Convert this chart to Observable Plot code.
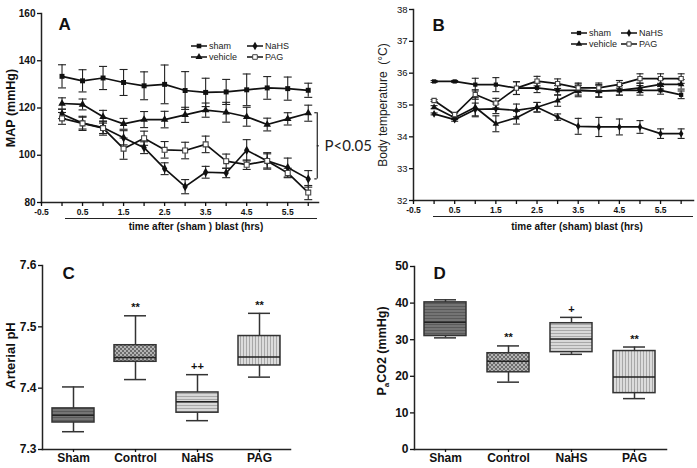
<!DOCTYPE html>
<html><head><meta charset="utf-8">
<script src="https://cdn.jsdelivr.net/npm/d3@7"></script>
<script src="https://cdn.jsdelivr.net/npm/@observablehq/plot@0.6"></script>
<style>
body{margin:0;background:#fff;font-family:"Liberation Sans",Arial,sans-serif;color:#111}
#wrap{position:relative;width:697px;height:468px;overflow:hidden;background:#fff}
.abs{position:absolute}
.uline{position:absolute;height:0;border-top:1.5px solid #222}
.xtitle{position:absolute;font-weight:bold;font-size:10px;text-align:center;white-space:pre;width:240px}
.leg{position:absolute;font-size:9px;color:#222;display:flex;align-items:center;white-space:nowrap}
.leg svg{margin-right:2px}
.ylab{position:absolute;font-weight:bold;font-size:12.5px;white-space:nowrap;transform:translate(-50%,-50%) rotate(-90deg)}
</style></head>
<body>
<svg width="0" height="0" style="position:absolute">
<defs>
<pattern id="pSham" width="4" height="3" patternUnits="userSpaceOnUse">
<rect width="4" height="3" fill="#747474"/><line x1="0" y1="0.5" x2="4" y2="0.5" stroke="#5a5a5a" stroke-width="1"/></pattern>
<pattern id="pCtrl" width="4" height="4" patternUnits="userSpaceOnUse">
<rect width="4" height="4" fill="#b4b4b4"/><rect width="2" height="2" fill="#6c6c6c"/><rect x="2" y="2" width="2" height="2" fill="#6c6c6c"/></pattern>
<pattern id="pNaHS" width="4" height="3" patternUnits="userSpaceOnUse">
<rect width="4" height="3" fill="#d8d8d8"/><line x1="0" y1="0.5" x2="4" y2="0.5" stroke="#a8a8a8" stroke-width="1"/></pattern>
<pattern id="pPAG" width="3" height="4" patternUnits="userSpaceOnUse">
<rect width="3" height="4" fill="#dcdcdc"/><line x1="0.5" y1="0" x2="0.5" y2="4" stroke="#a8a8a8" stroke-width="1"/></pattern>
</defs></svg>
<div id="wrap"></div>
<script>
// ---------- DATA ----------
const times = [0, 0.5, 1, 1.5, 2, 2.5, 3, 3.5, 4, 4.5, 5, 5.5, 6];
const seriesNames = ["sham", "vehicle", "NaHS", "PAG"];

// Panel A: MAP (mmHg), mean and error
const mapSham       = [133.4, 131.5, 132.7, 130.8, 129.4, 130.0, 127.4, 126.6, 126.8, 127.7, 128.5, 128.2, 127.5];
const mapShamErr    = [4.9, 4.7, 4.9, 5.5, 5.9, 8.2, 8.0, 6.0, 5.3, 6.7, 4.8, 4.9, 3.0];
const mapVehicle    = [121.9, 121.5, 116.3, 113.3, 115.1, 115.1, 117.1, 119.1, 118.2, 116.3, 113.0, 115.4, 117.8];
const mapVehicleErr = [2.4, 2.3, 2.7, 2.3, 3.4, 3.5, 3.2, 3.0, 4.2, 4.0, 2.7, 2.6, 3.4];
const mapNaHS       = [117.5, 113.6, 111.7, 107.4, 103.2, 94.3, 86.7, 92.8, 92.5, 102.1, 97.6, 94.8, 90.0];
const mapNaHSErr    = [2.0, 2.5, 2.5, 3.0, 2.5, 2.5, 3.0, 2.5, 2.0, 4.5, 3.5, 4.0, 3.5];
const mapPAG        = [115.6, 113.5, 111.5, 102.8, 107.2, 102.3, 102.0, 104.6, 97.5, 96.0, 97.6, 92.5, 84.2];
const mapPAGErr     = [2.5, 3.0, 3.0, 4.5, 3.0, 3.5, 3.5, 3.5, 3.0, 2.0, 3.0, 2.0, 3.0];

// Panel B: body temperature (°C)
const tempSham       = [35.74, 35.74, 35.64, 35.64, 35.53, 35.54, 35.46, 35.46, 35.44, 35.46, 35.46, 35.46, 35.32];
const tempShamErr    = [0.03, 0.03, 0.2, 0.22, 0.2, 0.15, 0.15, 0.15, 0.18, 0.15, 0.15, 0.12, 0.12];
const tempVehicle    = [34.93, 34.6, 34.93, 34.41, 34.6, 34.93, 35.14, 35.46, 35.44, 35.46, 35.54, 35.65, 35.65];
const tempVehicleErr = [0.05, 0.05, 0.3, 0.25, 0.2, 0.15, 0.18, 0.2, 0.2, 0.15, 0.15, 0.15, 0.15];
const tempNaHS       = [34.72, 34.54, 34.86, 34.88, 34.83, 34.93, 34.62, 34.33, 34.31, 34.31, 34.31, 34.1, 34.1];
const tempNaHSErr    = [0.03, 0.05, 0.2, 0.15, 0.2, 0.15, 0.1, 0.25, 0.3, 0.25, 0.2, 0.15, 0.15];
const tempPAG        = [35.14, 34.7, 35.33, 35.06, 35.53, 35.75, 35.67, 35.54, 35.54, 35.65, 35.83, 35.83, 35.83];
const tempPAGErr     = [0.03, 0.05, 0.15, 0.15, 0.2, 0.15, 0.15, 0.15, 0.15, 0.12, 0.15, 0.15, 0.15];

// Panels C & D: box plots
const groups = ["Sham", "Control", "NaHS", "PAG"];
const phMin = [7.329, 7.414, 7.347, 7.418];
const phQ1  = [7.344, 7.443, 7.360, 7.437];
const phMed = [7.356, 7.450, 7.378, 7.451];
const phQ3  = [7.367, 7.470, 7.393, 7.485];
const phMax = [7.402, 7.518, 7.422, 7.522];
const phMarks = ["", "**", "++", "**"];

const co2Min = [30.5, 18.4, 26.0, 13.9];
const co2Q1  = [31.0, 21.1, 26.6, 15.4];
const co2Med = [34.8, 24.1, 30.2, 19.8];
const co2Q3  = [40.2, 26.3, 34.5, 26.9];
const co2Max = [40.9, 28.3, 36.1, 28.0];
const co2Marks = ["", "**", "+", "**"];

// Tick labels / text
const mapTicks = [80, 100, 120, 140, 160];
const tempTicks = [32, 33, 34, 35, 36, 37, 38];
const timeTicks = [-0.5, 0, 0.5, 1, 1.5, 2, 2.5, 3, 3.5, 4, 4.5, 5, 5.5, 6];
const phTicks = [7.3, 7.4, 7.5, 7.6];
const co2Ticks = [0, 10, 20, 30, 40, 50];
const pText = "P<0.05";
const bracket = {x: 6.22, top: 118, bottom: 90, mid: 104};

// ---------- HELPERS ----------
const W = document.getElementById("wrap");
const FONT = "'Liberation Sans', Arial, sans-serif";
const style = {fontFamily: FONT, fontSize: "10px", color: "#111", background: "none", overflow: "visible"};
const hline = {draw(ctx, size) { const r = Math.sqrt(size / Math.PI); ctx.moveTo(-r, 0); ctx.lineTo(r, 0); }};
const spec = {
  sham: {symbol: "square", fill: "#111", stroke: "none"},
  vehicle: {symbol: "triangle", fill: "#111", stroke: "none"},
  NaHS: {symbol: "diamond", fill: "#111", stroke: "none"},
  PAG: {symbol: "square", fill: "#fff", stroke: "#444"}
};
const fmtHalf = d => (Math.round(d * 2) % 2 !== 0 ? d.toFixed(1) : "");

function longData(values, errs) {
  return seriesNames.flatMap((s, i) => times.map((t, j) => ({series: s, t, v: values[i][j], e: errs[i][j]})));
}
function lineMarks(data, r, capR) {
  return [
    Plot.ruleX(data, {x: "t", y1: d => d.v - d.e, y2: d => d.v + d.e, stroke: "#222", strokeWidth: 1.1}),
    Plot.dot(data, {x: "t", y: d => d.v + d.e, symbol: hline, r: capR, stroke: "#222", strokeWidth: 1.1}),
    Plot.dot(data, {x: "t", y: d => d.v - d.e, symbol: hline, r: capR, stroke: "#222", strokeWidth: 1.1}),
    Plot.line(data, {x: "t", y: "v", z: "series", stroke: "#111", strokeWidth: 1.7}),
    ...seriesNames.map(s => Plot.dot(data.filter(d => d.series === s), {
      x: "t", y: "v", symbol: spec[s].symbol, r, fill: spec[s].fill, stroke: spec[s].stroke, strokeWidth: 1.1
    }))
  ];
}
function place(el, left, top) { el.style.position = "absolute"; el.style.left = left + "px"; el.style.top = top + "px"; W.appendChild(el); }
function div(cls, left, top, html, extra) {
  const e = document.createElement("div"); e.className = cls; e.style.left = left + "px"; e.style.top = top + "px";
  e.innerHTML = html; if (extra) Object.assign(e.style, extra); W.appendChild(e); return e;
}
function legendItem(left, cy, name, r) {
  const s = spec[name];
  const size = r * r * Math.PI;
  const sym = {square: d3.symbolSquare, triangle: d3.symbolTriangle, diamond: d3.symbolDiamond}[s.symbol];
  const path = d3.symbol(sym, size)();
  const html = `<svg width="16" height="10"><line x1="0" y1="5" x2="16" y2="5" stroke="#111" stroke-width="1.5"/>` +
    `<path transform="translate(8,5)" d="${path}" fill="${s.fill}" stroke="${s.stroke}" stroke-width="1"/></svg><span>${name}</span>`;
  div("leg", left, cy - 6, html, {height: "12px"});
}

// ---------- PANEL A ----------
const dataA = longData([mapSham, mapVehicle, mapNaHS, mapPAG], [mapShamErr, mapVehicleErr, mapNaHSErr, mapPAGErr]);
const plotA = Plot.plot({
  width: 380, height: 222, marginLeft: 41, marginRight: 62, marginTop: 13, marginBottom: 20,
  style, x: {domain: [-0.5, 6.25]}, y: {domain: [80, 160]},
  marks: [
    Plot.frame({anchor: "left", strokeWidth: 1.5, stroke: "#222"}),
    Plot.frame({anchor: "bottom", strokeWidth: 1.5, stroke: "#222"}),
    Plot.axisY({ticks: mapTicks, tickSize: 4, tickPadding: 2, fontWeight: "bold", fontSize: 10, label: null, strokeWidth: 1.3}),
    Plot.axisX({ticks: timeTicks, tickSize: 4, tickPadding: 2, tickFormat: fmtHalf, fontWeight: "bold", fontSize: 8.5, label: null, strokeWidth: 1.3}),
    Plot.text(["MAP (mmHg)"], {text: d => d, frameAnchor: "left", dx: -31, rotate: -90, textAnchor: "middle", fontWeight: "bold", fontSize: 12.5}),
    Plot.text(["A"], {text: d => d, frameAnchor: "top-left", dx: 17, dy: 4, lineAnchor: "top", fontWeight: "bold", fontSize: 17}),
    ...lineMarks(dataA, 2.8, 4),
    Plot.ruleX([bracket.x], {y1: bracket.bottom, y2: bracket.top, stroke: "#222", strokeWidth: 1.2}),
    Plot.ruleY([bracket.top, bracket.bottom], {x1: bracket.x - 0.06, x2: bracket.x, stroke: "#222", strokeWidth: 1.2}),
    Plot.ruleY([bracket.mid], {x1: bracket.x, x2: bracket.x + 0.05, stroke: "#222", strokeWidth: 1.2}),
    Plot.text([pText], {text: d => d, x: 6.25, y: bracket.mid, dx: 6, textAnchor: "start", fontSize: 15, fontFamily: "Lato, 'Liberation Sans', sans-serif", fill: "#222"})
  ]
});
place(plotA, 0, 0);

// ---------- PANEL B ----------
const dataB = longData([tempSham, tempVehicle, tempNaHS, tempPAG], [tempShamErr, tempVehicleErr, tempNaHSErr, tempPAGErr]);
const plotB = Plot.plot({
  width: 342, height: 222, marginLeft: 58, marginRight: 4, marginTop: 9, marginBottom: 22,
  style, x: {domain: [-0.5, 6.3]}, y: {domain: [32, 38]},
  marks: [
    Plot.frame({anchor: "left", strokeWidth: 1.5, stroke: "#222"}),
    Plot.frame({anchor: "bottom", strokeWidth: 1.5, stroke: "#222"}),
    Plot.axisY({ticks: tempTicks, tickFormat: d => String(d), tickSize: 4, tickPadding: 2, fontSize: 9.5, label: null, strokeWidth: 1.3}),
    Plot.axisX({ticks: timeTicks, tickSize: 4, tickPadding: 2, tickFormat: fmtHalf, fontWeight: "bold", fontSize: 8.5, label: null, strokeWidth: 1.3}),
    Plot.text(["Body temperature  (°C)"], {text: d => d, frameAnchor: "left", dx: -30, rotate: -90, textAnchor: "middle", fontSize: 12, fill: "#222"}),
    Plot.text(["B"], {text: d => d, frameAnchor: "top-left", dx: 19, dy: 9, lineAnchor: "top", fontWeight: "bold", fontSize: 17}),
    ...lineMarks(dataB, 2.4, 3.5)
  ]
});
place(plotB, 355, 0);

// x titles + underlines for A/B
div("uline", 65, 218, "", {width: "252px"});
div("xtitle", 196 - 120, 221, "time after (sham ) blast (hrs)");
div("uline", 433, 216, "", {width: "260px"});
div("xtitle", 577 - 120, 221, "time after (sham) blast (hrs)");

// legends
legendItem(191, 46, "sham", 2.6);
legendItem(191, 57, "vehicle", 2.6);
legendItem(247, 46, "NaHS", 2.6);
legendItem(247, 57, "PAG", 2.6);
legendItem(571, 33, "sham", 2.4);
legendItem(571, 44, "vehicle", 2.4);
legendItem(621, 33, "NaHS", 2.4);
legendItem(621, 44, "PAG", 2.4);

// ---------- BOX PANELS ----------
const patterns = {Sham: "url(#pSham)", Control: "url(#pCtrl)", NaHS: "url(#pNaHS)", PAG: "url(#pPAG)"};
function boxData(mn, q1, md, q3, mx, marks) {
  return groups.map((g, i) => ({g, min: mn[i], q1: q1[i], med: md[i], q3: q3[i], max: mx[i], mark: marks[i]}));
}
function boxMarks(data) {
  return [
    Plot.ruleX(data, {x: "g", y1: "min", y2: "max", stroke: "#333", strokeWidth: 1.5}),
    Plot.tickY(data, {x: "g", y: "min", insetLeft: 10, insetRight: 10, stroke: "#333", strokeWidth: 1.5}),
    Plot.tickY(data, {x: "g", y: "max", insetLeft: 10, insetRight: 10, stroke: "#333", strokeWidth: 1.5}),
    ...groups.map(g => Plot.barY(data.filter(d => d.g === g), {x: "g", y1: "q1", y2: "q3", fill: patterns[g], stroke: "#333", strokeWidth: 1.5})),
    Plot.tickY(data, {x: "g", y: "med", stroke: "#222", strokeWidth: 1.5}),
    Plot.text(data, {x: "g", y: "max", text: "mark", dy: -8, fontWeight: "bold", fontSize: 11})
  ];
}

const dataC = boxData(phMin, phQ1, phMed, phQ3, phMax, phMarks);
const plotC = Plot.plot({
  width: 300, height: 228, marginLeft: 42, marginRight: 10, marginTop: 25, marginBottom: 19,
  style,
  x: {domain: groups, paddingInner: 0.33, paddingOuter: 0.165},
  y: {domain: [7.3, 7.6]},
  marks: [
    Plot.frame({anchor: "left", strokeWidth: 1.5, stroke: "#222"}),
    Plot.frame({anchor: "bottom", strokeWidth: 1.5, stroke: "#222"}),
    Plot.axisY({ticks: phTicks, tickFormat: d => d.toFixed(1), tickSize: 4, tickPadding: 2, fontWeight: "bold", fontSize: 12, label: null, strokeWidth: 1.3}),
    Plot.axisX({tickSize: 3, tickPadding: 1, fontWeight: "bold", fontSize: 12, label: null, strokeWidth: 1.3}),
    Plot.text(["Arterial pH"], {text: d => d, frameAnchor: "left", dx: -32, dy: -2, rotate: -90, textAnchor: "middle", fontWeight: "bold", fontSize: 13}),
    Plot.text(["C"], {text: d => d, frameAnchor: "top-left", dx: 20, dy: 1, lineAnchor: "top", fontWeight: "bold", fontSize: 17}),
    ...boxMarks(dataC)
  ]
});
place(plotC, 0, 240);

const dataD = boxData(co2Min, co2Q1, co2Med, co2Q3, co2Max, co2Marks);
const plotD = Plot.plot({
  width: 342, height: 228, marginLeft: 59, marginRight: 31, marginTop: 26, marginBottom: 19,
  style,
  x: {domain: groups, paddingInner: 0.33, paddingOuter: 0.165},
  y: {domain: [0, 50]},
  marks: [
    Plot.frame({anchor: "left", strokeWidth: 1.5, stroke: "#222"}),
    Plot.frame({anchor: "bottom", strokeWidth: 1.5, stroke: "#222"}),
    Plot.axisY({ticks: co2Ticks, tickSize: 4, tickPadding: 2, fontWeight: "bold", fontSize: 12, label: null, strokeWidth: 1.3}),
    Plot.axisX({tickSize: 3, tickPadding: 1, fontWeight: "bold", fontSize: 12, label: null, strokeWidth: 1.3}),
    Plot.text(["D"], {text: d => d, frameAnchor: "top-left", dx: 19, dy: 0, lineAnchor: "top", fontWeight: "bold", fontSize: 17}),
    ...boxMarks(dataD)
  ]
});
place(plotD, 355, 240);
div("ylab", 383, 351, "P<sub style='font-size:8px'>a</sub>CO2 (mmHg)");
</script>
</body></html>
